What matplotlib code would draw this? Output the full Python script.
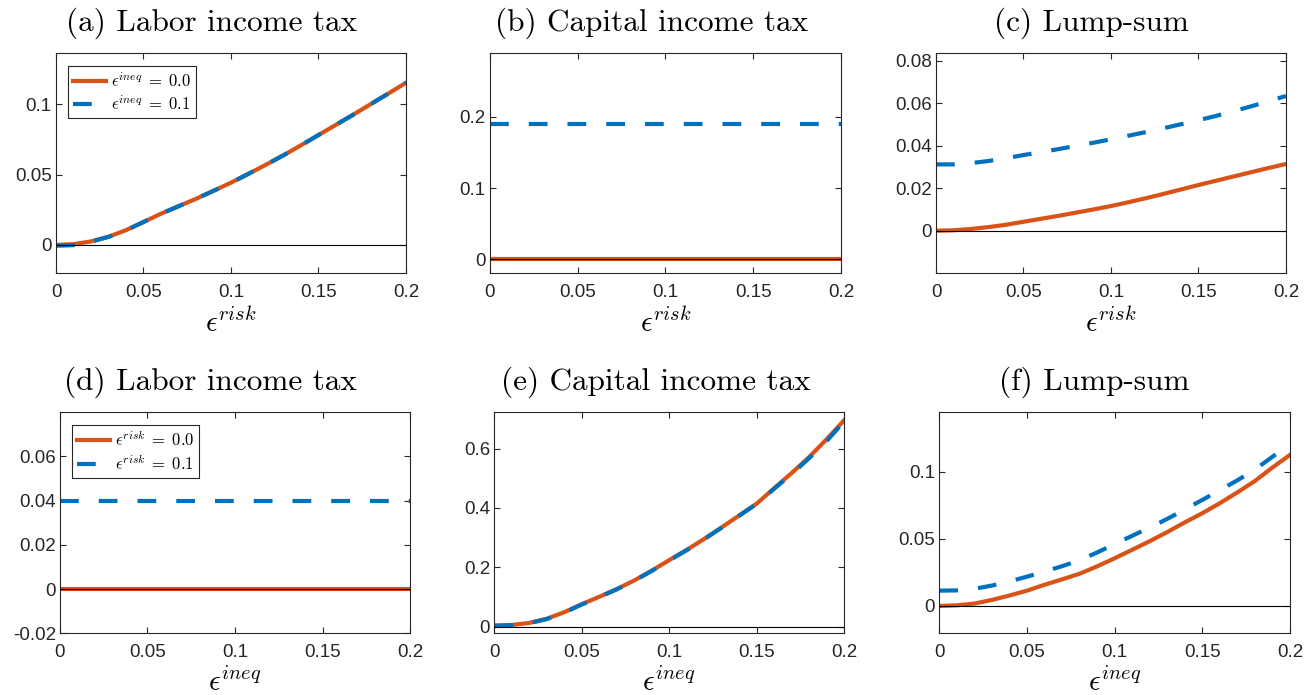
import matplotlib
matplotlib.use("Agg")
import matplotlib.pyplot as plt

plt.rcParams['mathtext.fontset'] = 'cm'
plt.rcParams['font.family'] = 'Liberation Sans'

ORANGE = '#D95319'
BLUE = '#0072BD'
AXCOL = '#262626'

# x grid (epsilon values)
eps = [0.00, 0.01, 0.02, 0.03, 0.04, 0.05, 0.06, 0.07, 0.08, 0.09, 0.10,
       0.11, 0.12, 0.13, 0.14, 0.15, 0.16, 0.17, 0.18, 0.19, 0.20]

# (a) labor income tax vs eps_risk
labor_risk_0 = [0.0000, 0.0005, 0.0025, 0.0058, 0.0105, 0.0163, 0.0222, 0.0275, 0.0328,
                0.0385, 0.0443, 0.0506, 0.0571, 0.0638, 0.0709, 0.0782, 0.0855, 0.0928,
                0.1003, 0.1078, 0.1154]
labor_risk_1 = [-0.0006, -0.0002, 0.0023, 0.0057, 0.0104, 0.0163, 0.0222, 0.0275, 0.0328,
                0.0385, 0.0443, 0.0506, 0.0571, 0.0638, 0.0709, 0.0782, 0.0855, 0.0928,
                0.1003, 0.1078, 0.1154]
# (b) capital income tax vs eps_risk
capital_risk_0 = [0.0] * 21
capital_risk_1 = [0.19] * 21
# (c) lump-sum vs eps_risk
lump_risk_0 = [0.0000, 0.0002, 0.0008, 0.0017, 0.0028, 0.0042, 0.0056, 0.0070, 0.0085,
               0.0100, 0.0116, 0.0134, 0.0153, 0.0173, 0.0194, 0.0215, 0.0235, 0.0255,
               0.0275, 0.0295, 0.0314]
lump_risk_1 = [0.0312, 0.0312, 0.0318, 0.0328, 0.0341, 0.0356, 0.0370, 0.0384, 0.0399,
               0.0414, 0.0430, 0.0447, 0.0464, 0.0482, 0.0501, 0.0520, 0.0540, 0.0562,
               0.0585, 0.0609, 0.0634]
# (d) labor income tax vs eps_ineq
labor_ineq_0 = [0.0] * 21
labor_ineq_1 = [0.04] * 21
# (e) capital income tax vs eps_ineq
capital_ineq_0 = [0.004, 0.006, 0.013, 0.027, 0.049, 0.076, 0.101, 0.127, 0.156, 0.189,
                  0.2245, 0.259, 0.296, 0.335, 0.375, 0.415, 0.467, 0.518, 0.572, 0.632,
                  0.696]
capital_ineq_1 = [0.003, 0.005, 0.012, 0.026, 0.048, 0.075, 0.100, 0.126, 0.155, 0.188,
                  0.2235, 0.258, 0.295, 0.334, 0.374, 0.414, 0.465, 0.515, 0.568, 0.626,
                  0.692]
# (f) lump-sum vs eps_ineq
lump_ineq_0 = [0.0000, 0.0005, 0.0018, 0.0045, 0.0078, 0.0114, 0.0158, 0.0198, 0.0240,
               0.0295, 0.0355, 0.0418, 0.0482, 0.0550, 0.0622, 0.0690, 0.0765, 0.0845,
               0.0930, 0.1030, 0.1124]
lump_ineq_1 = [0.0114, 0.0116, 0.0128, 0.0152, 0.0183, 0.0218, 0.0256, 0.0296, 0.0340,
               0.0398, 0.0461, 0.0522, 0.0584, 0.0648, 0.0718, 0.0789, 0.0862, 0.0935,
               0.1015, 0.1110, 0.1210]

xticks = [0, 0.05, 0.1, 0.15, 0.2]
xticklabels = ['0', '0.05', '0.1', '0.15', '0.2']

panels = [
    dict(title='(a) Labor income tax', rect=[0.0426, 0.6072, 0.2661, 0.3165], tx=0.445,
         y0=labor_risk_0, y1=labor_risk_1, ylim=(-0.02, 0.1366),
         yt=[0, 0.05, 0.1], ytl=['0', '0.05', '0.1'], xl=r'$\epsilon^{risk}$',
         leg=[r'$\epsilon^{ineq} \;=\; 0.0$', r'$\epsilon^{ineq} \;=\; 0.1$']),
    dict(title='(b) Capital income tax', rect=[0.3726, 0.6072, 0.2669, 0.3165], tx=0.46,
         y0=capital_risk_0, y1=capital_risk_1, ylim=(-0.019, 0.289),
         yt=[0, 0.1, 0.2], ytl=['0', '0.1', '0.2'], xl=r'$\epsilon^{risk}$', leg=None),
    dict(title='(c) Lump-sum', rect=[0.7118, 0.6072, 0.2661, 0.3165], tx=0.443,
         y0=lump_risk_0, y1=lump_risk_1, ylim=(-0.0199, 0.0836),
         yt=[0, 0.02, 0.04, 0.06, 0.08], ytl=['0', '0.02', '0.04', '0.06', '0.08'],
         xl=r'$\epsilon^{risk}$', leg=None),
    dict(title='(d) Labor income tax', rect=[0.0456, 0.0888, 0.2662, 0.3184], tx=0.43,
         y0=labor_ineq_0, y1=labor_ineq_1, ylim=(-0.02, 0.08),
         yt=[-0.02, 0, 0.02, 0.04, 0.06], ytl=['-0.02', '0', '0.02', '0.04', '0.06'],
         xl=r'$\epsilon^{ineq}$',
         leg=[r'$\epsilon^{risk} \;=\; 0.0$', r'$\epsilon^{risk} \;=\; 0.1$']),
    dict(title='(e) Capital income tax', rect=[0.3759, 0.0888, 0.2662, 0.3184], tx=0.46,
         y0=capital_ineq_0, y1=capital_ineq_1, ylim=(-0.022, 0.723),
         yt=[0, 0.2, 0.4, 0.6], ytl=['0', '0.2', '0.4', '0.6'], xl=r'$\epsilon^{ineq}$',
         leg=None),
    dict(title='(f) Lump-sum', rect=[0.7143, 0.0888, 0.2667, 0.3184], tx=0.443,
         y0=lump_ineq_0, y1=lump_ineq_1, ylim=(-0.0203, 0.1443),
         yt=[0, 0.05, 0.1], ytl=['0', '0.05', '0.1'], xl=r'$\epsilon^{ineq}$', leg=None),
]

fig = plt.figure(figsize=(13.15, 6.95), dpi=100)

for p in panels:
    ax = fig.add_axes(p['rect'])
    l0, = ax.plot(eps, p['y0'], color=ORANGE, linewidth=3)
    l1, = ax.plot(eps, p['y1'], color=BLUE, linewidth=3, linestyle=(0, (4.5, 4.8)))
    ax.axhline(0, color='black', linewidth=0.8, zorder=5)
    ax.set_xlim(0, 0.2)
    ax.set_ylim(*p['ylim'])
    ax.set_xticks(xticks)
    ax.set_xticklabels(xticklabels)
    ax.set_yticks(p['yt'])
    ax.set_yticklabels(p['ytl'])
    ax.tick_params(direction='in', top=True, right=True, length=4, width=0.8,
                   labelsize=13.5, colors=AXCOL, pad=8)
    ax.tick_params(axis='y', pad=3)
    for s in ax.spines.values():
        s.set_color(AXCOL)
        s.set_linewidth(0.8)
    ax.set_xlabel(p['xl'], fontsize=21, labelpad=5, color='black')
    ax.set_title(p['title'], fontfamily='cmr10', fontsize=22.5, pad=16, x=p['tx'])
    if p['leg']:
        leg = ax.legend([l0, l1], p['leg'], loc='upper left', bbox_to_anchor=(0.034, 0.942),
                        borderaxespad=0, fancybox=False, edgecolor=AXCOL, fontsize=12,
                        handlelength=2.0, handletextpad=0.3, borderpad=0.3,
                        labelspacing=0.25, framealpha=1)
        leg.get_frame().set_linewidth(0.8)

fig.savefig('out.png', dpi=100)
